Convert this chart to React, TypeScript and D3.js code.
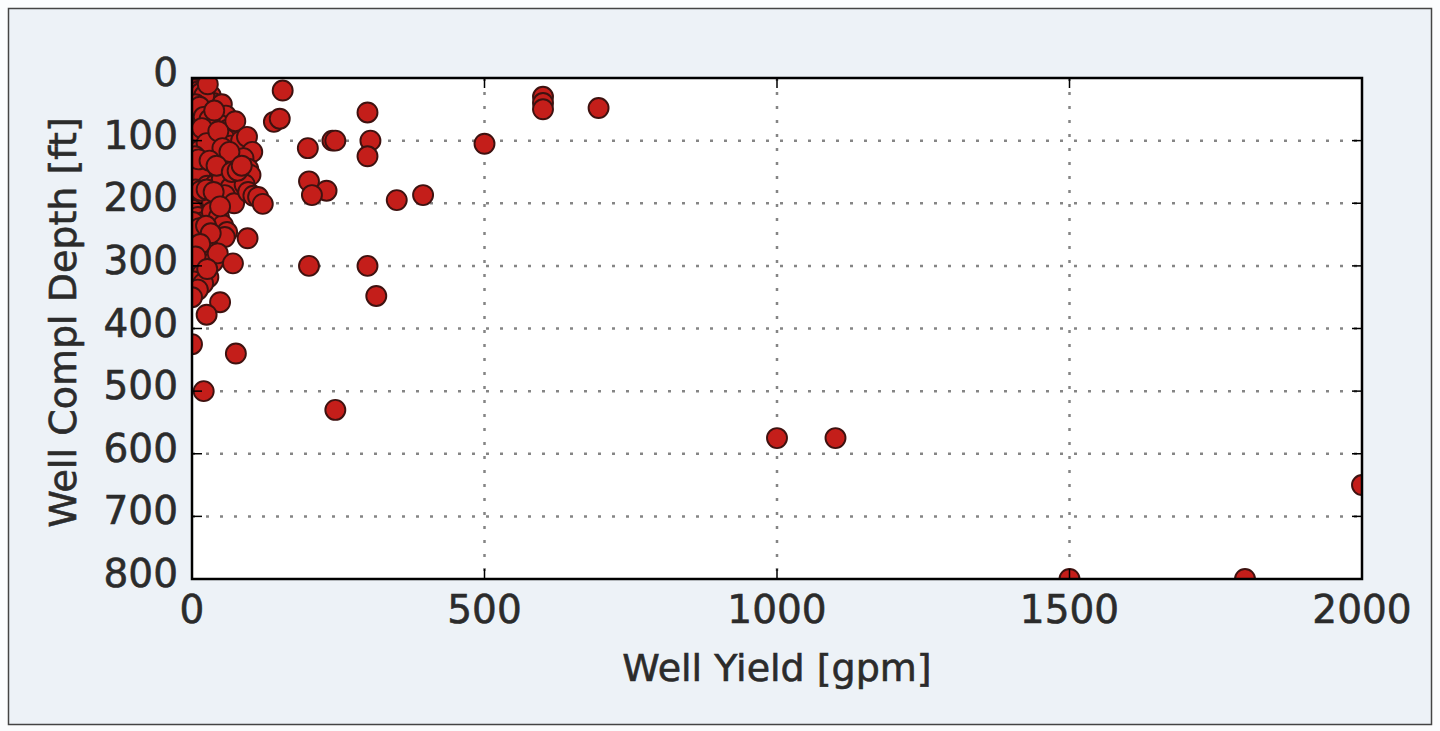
import React, { useRef, useEffect } from "react"
import * as d3 from "d3"

// well yield (gpm) and completion depth (ft), paired by index
const wellYield = [
  0, 6, 12, 18, 26, 32, 4, 14, 22, 36, 44, 51,
  0, 8, 16, 28, 34, 42, 58, 2, 12, 22, 32, 48, 62, 74,
  0, 8, 18, 28, 40, 56, 66, 84, 94, 103, 4, 14, 24, 36, 48, 60, 74, 88, 96, 100,
  0, 10, 22, 34, 46, 58, 80, 2, 14, 26, 40, 51, 66, 90,
  0, 10, 22, 34, 46, 56, 72, 96, 105, 113, 121,
  0, 10, 20, 34, 46, 53, 60, 4, 16, 28, 40, 56, 95,
  0, 10, 22, 30, 36, 44, 0, 8, 18, 28, 70, 4, 19, 10, 0,
  3, 9, 15, 21, 27, 6, 13, 20, 30, 38, 7, 17, 25, 45, 52, 64, 5, 11,
  30, 42, 68, 78, 85, 6, 15, 25, 37, 48, 2, 12, 24, 32, 14, 6, 26,
  155, 140, 150, 198, 240, 245, 300, 305, 300, 200, 230, 205, 350, 395,
  200, 300, 315, 75, 0, 20, 48, 25, 245, 500, 600, 600, 600, 695,
  1000, 1100, 1500, 1800, 2000,
]
const wellDepth = [
  8, 12, 6, 15, 20, 28, 28, 33, 38, 40, 46, 42,
  50, 55, 52, 58, 58, 62, 60, 70, 72, 68, 80, 75, 82, 69,
  88, 92, 96, 90, 100, 97, 108, 100, 94, 118, 110, 115, 120, 118, 125, 132, 137, 128, 145, 155,
  135, 142, 150, 145, 152, 160, 162, 165, 155, 172, 170, 161, 175, 170,
  185, 192, 187, 196, 190, 187, 200, 182, 188, 190, 201,
  210, 222, 230, 214, 222, 235, 246, 245, 252, 260, 266, 254, 256,
  270, 275, 282, 290, 294, 280, 300, 308, 312, 318, 296, 325, 328, 338, 350,
  18, 22, 24, 28, 10, 42, 46, 62, 66, 52, 84, 80, 104, 85, 112, 118, 125, 130,
  132, 140, 150, 148, 140, 178, 180, 178, 182, 205, 230, 240, 236, 248, 265, 285, 305,
  20, 70, 65, 112, 100, 100, 55, 100, 125, 165, 180, 187, 195, 187,
  300, 300, 348, 440, 425, 500, 358, 378, 530, 105, 30, 40, 50, 48,
  575, 575, 800, 800, 650,
]

const xTicks = [0, 500, 1000, 1500, 2000]
const yTicks = [0, 100, 200, 300, 400, 500, 600, 700, 800]

const font = "'DejaVu Sans', Verdana, sans-serif"

export default function App() {
  const svgRef = useRef<SVGSVGElement>(null)

  useEffect(() => {
    if (!svgRef.current) return
    const svg = d3.select(svgRef.current)
    svg.selectAll("*").remove()

    const left = 192
    const right = 1362
    const top = 78
    const bottom = 579

    const x = d3.scaleLinear().domain([0, 2000]).range([left, right])
    const y = d3.scaleLinear().domain([0, 800]).range([top, bottom])

    // page + figure frame
    svg.append("rect").attr("width", 1440).attr("height", 731).attr("fill", "#fbfcfd")
    svg
      .append("rect")
      .attr("x", 8.5)
      .attr("y", 8.5)
      .attr("width", 1423)
      .attr("height", 716)
      .attr("fill", "#edf2f7")
      .attr("stroke", "#444")
      .attr("stroke-width", 1.5)

    svg
      .append("rect")
      .attr("x", left)
      .attr("y", top)
      .attr("width", right - left)
      .attr("height", bottom - top)
      .attr("fill", "#ffffff")

    // dotted grid
    const grid = svg
      .append("g")
      .attr("stroke", "#858585")
      .attr("stroke-width", 2.5)
      .attr("stroke-dasharray", "3 11")
    grid
      .selectAll(".gx")
      .data(xTicks.slice(1, -1))
      .enter()
      .append("line")
      .attr("x1", (d) => x(d))
      .attr("x2", (d) => x(d))
      .attr("y1", top)
      .attr("y2", bottom)
    grid
      .selectAll(".gy")
      .data(yTicks.slice(1, -1))
      .enter()
      .append("line")
      .attr("x1", left)
      .attr("x2", right)
      .attr("y1", (d) => y(d))
      .attr("y2", (d) => y(d))

    svg
      .append("clipPath")
      .attr("id", "plot-clip")
      .append("rect")
      .attr("x", left)
      .attr("y", top)
      .attr("width", right - left)
      .attr("height", bottom - top)

    const pts = wellYield.map((v, i) => ({ q: v, d: wellDepth[i] }))

    svg
      .append("g")
      .attr("clip-path", "url(#plot-clip)")
      .selectAll(".dot")
      .data(pts)
      .enter()
      .append("circle")
      .attr("class", "dot")
      .attr("cx", (p) => x(p.q))
      .attr("cy", (p) => y(p.d))
      .attr("r", 10)
      .attr("fill", "#c41e1a")
      .attr("stroke", "#3e1210")
      .attr("stroke-width", 1.9)

    // ticks pointing inward on all four sides
    const tickLen = 10
    const ticks = svg.append("g").attr("stroke", "#000").attr("stroke-width", 1.5)
    xTicks.forEach((t) => {
      ticks.append("line").attr("x1", x(t)).attr("x2", x(t)).attr("y1", bottom).attr("y2", bottom - tickLen)
      ticks.append("line").attr("x1", x(t)).attr("x2", x(t)).attr("y1", top).attr("y2", top + tickLen)
    })
    yTicks.forEach((t) => {
      ticks.append("line").attr("x1", left).attr("x2", left + tickLen).attr("y1", y(t)).attr("y2", y(t))
      ticks.append("line").attr("x1", right).attr("x2", right - tickLen).attr("y1", y(t)).attr("y2", y(t))
    })

    svg
      .append("rect")
      .attr("x", left)
      .attr("y", top)
      .attr("width", right - left)
      .attr("height", bottom - top)
      .attr("fill", "none")
      .attr("stroke", "#000")
      .attr("stroke-width", 2.5)

    // tick labels
    const label = (sel: d3.Selection<SVGTextElement, any, any, any>, size: number) =>
      sel
        .attr("font-family", font)
        .attr("font-size", size)
        .attr("fill", "#2b2b2b")
        .attr("stroke", "#2b2b2b")
        .attr("stroke-width", 0.6)

    svg
      .append("g")
      .selectAll("text")
      .data(xTicks)
      .enter()
      .append("text")
      .attr("x", (d) => x(d))
      .attr("y", 623)
      .attr("text-anchor", "middle")
      .call(label, 39)
      .text((d) => String(d))

    svg
      .append("g")
      .selectAll("text")
      .data(yTicks)
      .enter()
      .append("text")
      .attr("x", 178)
      .attr("y", (d) => y(d) + 8)
      .attr("text-anchor", "end")
      .call(label, 39)
      .text((d) => String(d))

    svg
      .append("text")
      .attr("x", (left + right) / 2)
      .attr("y", 681)
      .attr("text-anchor", "middle")
      .call(label, 38)
      .text("Well Yield [gpm]")

    svg
      .append("text")
      .attr("transform", `translate(76, ${(top + bottom) / 2 - 6}) rotate(-90)`)
      .attr("text-anchor", "middle")
      .call(label, 38)
      .text("Well Compl Depth [ft]")
  }, [])

  return (
    <svg
      ref={svgRef}
      width={1440}
      height={731}
      style={{ position: "absolute", left: 0, top: 0 }}
    ></svg>
  )
}
